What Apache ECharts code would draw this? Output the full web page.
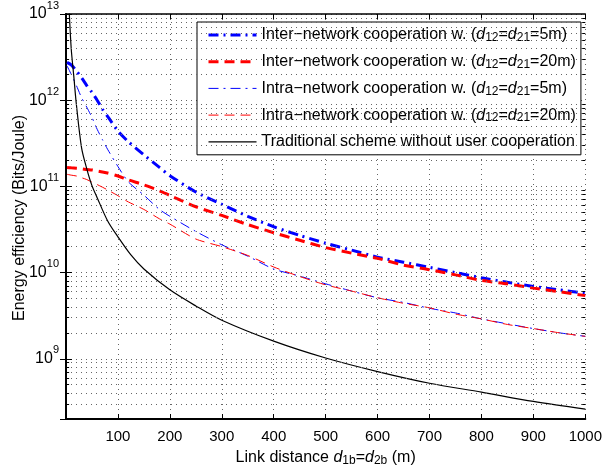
<!DOCTYPE html>
<html>
<head>
<meta charset="utf-8">
<script src="https://cdn.jsdelivr.net/npm/echarts@6/dist/echarts.min.js"></script>
<style>
  html, body { margin: 0; padding: 0; background: #fff; }
  #chart { width: 605px; height: 472px; }
</style>
</head>
<body>
<div id="chart"></div>
<script>
// 链路距离 (m)
const distance = [2, 10, 20, 30, 40, 50, 60, 70, 80, 100, 120, 150, 180, 200, 250, 300,
  350, 400, 450, 500, 550, 600, 650, 700, 750, 800, 850, 900, 950, 1000]
const tradDistance = [5, 10, 15, 20, 30, 40, 50, 60, 80, 100, 125, 150, 200, 250, 300,
  400, 500, 600, 700, 800, 900, 1000]

// 能效 (Bits/Joule)
const inter5m = [2.75e12, 2.57e12, 2.19e12, 1.82e12, 1.48e12, 1.23e12, 1.0e12, 7.9e11, 6.5e11,
  4.4e11, 3.3e11, 2.32e11, 1.66e11, 1.33e11, 8.6e10, 6.2e10, 4.5e10, 3.4e10, 2.7e10, 2.19e10,
  1.82e10, 1.51e10, 1.32e10, 1.15e10, 1.0e10, 8.7e9, 7.7e9, 6.9e9, 6.3e9, 5.75e9]
const inter20m = [1.66e11, 1.64e11, 1.62e11, 1.6e11, 1.57e11, 1.55e11, 1.51e11, 1.47e11, 1.43e11,
  1.32e11, 1.19e11, 1.04e11, 8.9e10, 7.85e10, 5.8e10, 4.6e10, 3.6e10, 2.9e10, 2.37e10, 1.95e10,
  1.68e10, 1.46e10, 1.22e10, 1.08e10, 9.4e9, 8.1e9, 7.4e9, 6.6e9, 6.0e9, 5.4e9]
const intra5m = [2.5e12, 2.0e12, 1.48e12, 1.07e12, 8.3e11, 6.3e11, 4.6e11, 3.5e11, 2.7e11,
  1.7e11, 1.13e11, 7.9e10, 5.4e10, 4.5e10, 3.0e10, 2.1e10, 1.55e10, 1.1e10, 9.1e9, 7.4e9,
  6.1e9, 5.1e9, 4.5e9, 3.85e9, 3.4e9, 2.9e9, 2.54e9, 2.24e9, 2.0e9, 1.82e9]
const intra20m = [1.38e11, 1.35e11, 1.32e11, 1.26e11, 1.2e11, 1.12e11, 1.05e11, 9.8e10, 9.1e10,
  7.8e10, 6.6e10, 5.4e10, 4.2e10, 3.65e10, 2.45e10, 2.0e10, 1.58e10, 1.16e10, 9.0e9, 7.2e9,
  6.1e9, 5.1e9, 4.4e9, 3.9e9, 3.3e9, 2.9e9, 2.5e9, 2.24e9, 2.0e9, 1.82e9]
const traditional = [1.5e13, 4.0e12, 1.9e12, 8.9e11, 2.8e11, 1.6e11, 1.02e11, 7.4e10, 4.0e10,
  2.6e10, 1.6e10, 1.1e10, 6.3e9, 4.1e9, 2.8e9, 1.6e9, 1.02e9, 7.1e8, 5.2e8, 4.1e8, 3.2e8, 2.6e8]

// 坐标轴范围
const xMin = 0, xMax = 1000, xStep = 100
const yMin = 2e8, yMax = 1e13
const minorMultipliers = [2, 3, 4, 5, 6, 7, 8, 9]
const decades = [1e8, 1e9, 1e10, 1e11, 1e12]

const subLabel = '{t|(}{i|d}{s|12}{t|=}{i|d}{s|21}{t|='
const legendLabels = {
  inter5: 'Inter\u2212network cooperation w. ' + subLabel + '5m)}',
  inter20: 'Inter\u2212network cooperation w. ' + subLabel + '20m)}',
  intra5: 'Intra\u2212network cooperation w. ' + subLabel + '5m)}',
  intra20: 'Intra\u2212network cooperation w. ' + subLabel + '20m)}',
  trad: 'Traditional scheme without user cooperation'
}
const yTitle = 'Energy efficiency (Bits/Joule)'

const font = 'Liberation Sans, Arial, Helvetica, sans-serif'
const gridDot = { color: '#666', width: 1, type: [1, 4] }

const pairs = (xs, ys) => xs.map((x, i) => [x, ys[i]])

// 次网格线与次刻度
const minorValues = []
decades.forEach(d => minorMultipliers.forEach(m => {
  const v = d * m
  if (v > yMin && v < yMax) minorValues.push(v)
}))
const minorGrid = minorValues.map(v => ({ yAxis: v }))
const minorTicks = []
minorValues.forEach(v => {
  minorTicks.push([{ coord: [xMin, v] }, { coord: [xMin + 6, v] }])
  minorTicks.push([{ coord: [xMax - 6, v] }, { coord: [xMax, v] }])
})

const richText = size => ({
  t: { fontSize: size, lineHeight: 18, color: '#000', fontFamily: font },
  i: { fontSize: size, lineHeight: 18, fontStyle: 'italic', color: '#000', fontFamily: font },
  s: { fontSize: size - 4, lineHeight: 11, verticalAlign: 'bottom', color: '#000', fontFamily: font }
})

const chart = echarts.init(document.getElementById('chart'))

const option = {
  animation: false,
  textStyle: { fontFamily: font },
  grid: { left: 66, right: 18, top: 14, bottom: 47 },
  graphic: [
    {
      type: 'text',
      x: 20,
      y: 218,
      rotation: Math.PI / 2,
      silent: true,
      style: {
        text: yTitle,
        fontSize: 16,
        fontFamily: font,
        fill: '#000',
        align: 'center',
        verticalAlign: 'middle'
      }
    }
  ],
  legend: {
    data: [
      { name: 'inter5', lineStyle: { width: 3 } },
      { name: 'inter20', lineStyle: { width: 3 } },
      { name: 'intra5', lineStyle: { width: 1 } },
      { name: 'intra20', lineStyle: { width: 1 } },
      { name: 'trad', lineStyle: { width: 1.2 } }
    ],
    orient: 'vertical',
    left: 197,
    top: 22,
    itemWidth: 48,
    itemHeight: 12,
    itemGap: 8.7,
    itemTextGap: 6,
    padding: [4, 5, 4, 10],
    backgroundColor: '#fff',
    borderColor: '#000',
    borderWidth: 1,
    borderRadius: 0,
    itemStyle: { opacity: 0 },
    formatter: name => legendLabels[name],
    textStyle: {
      fontFamily: font,
      fontSize: 16,
      color: '#000',
      lineHeight: 18,
      rich: richText(16)
    }
  },
  xAxis: [
    {
      type: 'value',
      min: xMin,
      max: xMax,
      interval: xStep,
      name: '{t|Link distance }{i|d}{s|1b}{t|=}{i|d}{s|2b}{t| (m)}',
      nameLocation: 'middle',
      nameGap: 30,
      nameTextStyle: { rich: richText(16) },
      axisLine: { lineStyle: { color: '#000', width: 2 } },
      axisTick: { inside: true, length: 5, lineStyle: { color: '#000' } },
      axisLabel: {
        fontSize: 15,
        color: '#000',
        margin: 10,
        formatter: v => (v === 0 ? '' : String(v))
      },
      splitLine: { show: true, lineStyle: gridDot }
    },
    {
      type: 'value',
      position: 'top',
      min: xMin,
      max: xMax,
      interval: xStep,
      axisLine: { show: true, lineStyle: { color: '#000', width: 1.5 } },
      axisTick: { inside: true, length: 5, lineStyle: { color: '#000' } },
      axisLabel: { show: false },
      splitLine: { show: false }
    }
  ],
  yAxis: [
    {
      type: 'log',
      logBase: 10,
      min: yMin,
      max: yMax,
      axisLine: { show: true, lineStyle: { color: '#000', width: 2 } },
      axisTick: { inside: true, length: 6, lineStyle: { color: '#000' } },
      axisLabel: {
        color: '#000',
        margin: 7,
        formatter: v => {
          const e = Math.log10(v)
          const r = Math.round(e)
          if (Math.abs(e - r) > 1e-6) return ''
          return '{b|10}{p|' + r + '}'
        },
        rich: {
          b: { fontSize: 16, lineHeight: 28, color: '#000', fontFamily: font },
          p: { fontSize: 11, lineHeight: 8, verticalAlign: 'top', color: '#000', fontFamily: font }
        }
      },
      splitLine: { show: true, lineStyle: gridDot }
    },
    {
      type: 'log',
      logBase: 10,
      min: yMin,
      max: yMax,
      position: 'right',
      axisLine: { show: true, lineStyle: { color: '#000', width: 1.5 } },
      axisTick: { inside: true, length: 6, lineStyle: { color: '#000' } },
      axisLabel: { show: false },
      splitLine: { show: false }
    }
  ],
  series: [
    {
      name: 'inter5',
      type: 'line',
      data: pairs(distance, inter5m),
      symbol: 'none',
      smooth: 0.25,
      itemStyle: { color: '#0000ff' },
      lineStyle: { color: '#0000ff', width: 3, type: [10, 5, 2, 5] }
    },
    {
      name: 'inter20',
      type: 'line',
      data: pairs(distance, inter20m),
      symbol: 'none',
      smooth: 0.25,
      itemStyle: { color: '#ff0000' },
      lineStyle: { color: '#ff0000', width: 3, type: [10, 6] }
    },
    {
      name: 'intra5',
      type: 'line',
      data: pairs(distance, intra5m),
      symbol: 'none',
      smooth: 0.25,
      itemStyle: { color: '#0000ff' },
      lineStyle: { color: '#0000ff', width: 1, type: [10, 5, 2, 5] }
    },
    {
      name: 'intra20',
      type: 'line',
      data: pairs(distance, intra20m),
      symbol: 'none',
      smooth: 0.25,
      itemStyle: { color: '#ff0000' },
      lineStyle: { color: '#ff0000', width: 1, type: [10, 6] }
    },
    {
      name: 'trad',
      type: 'line',
      data: pairs(tradDistance, traditional),
      symbol: 'none',
      smooth: 0.3,
      itemStyle: { color: '#000' },
      lineStyle: { color: '#000', width: 1.2, type: 'solid' },
      markLine: {
        silent: true,
        symbol: ['none', 'none'],
        label: { show: false },
        lineStyle: gridDot,
        data: minorGrid
      }
    },
    {
      name: 'minorTicks',
      type: 'line',
      data: [],
      symbol: 'none',
      markLine: {
        silent: true,
        symbol: ['none', 'none'],
        label: { show: false },
        lineStyle: { color: '#000', width: 1, type: 'solid' },
        data: minorTicks
      }
    }
  ]
}

chart.setOption(option)
window.addEventListener('resize', () => chart.resize())
</script>
</body>
</html>
